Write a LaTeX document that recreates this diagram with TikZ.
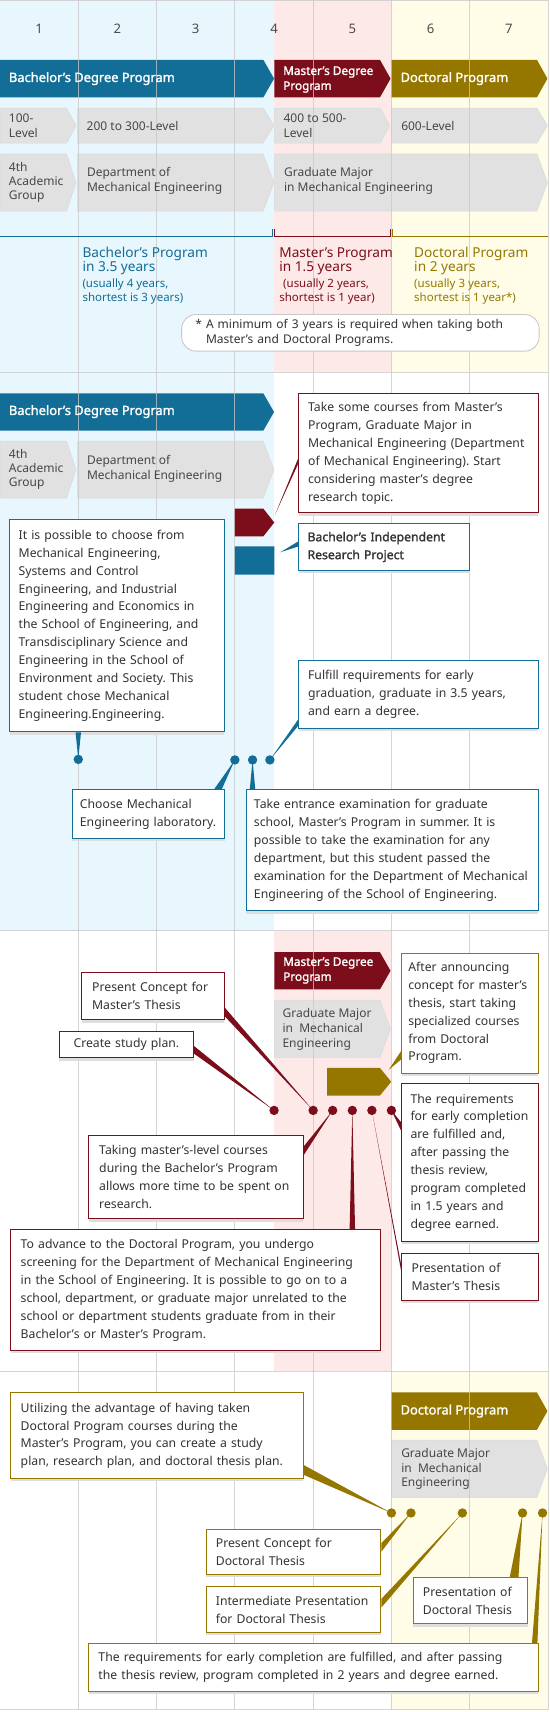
\documentclass[tikz,border=0pt]{standalone}
\usepackage{fontspec}
\setmainfont{Noto Sans}[AutoFakeBold=1.6]
\usetikzlibrary{calc,shadows}
\frenchspacing
\definecolor{bblue}{HTML}{126E96}
\definecolor{mred}{HTML}{7B0E1A}
\definecolor{dgold}{HTML}{957700}
\definecolor{bgblue}{HTML}{E8F6FD}
\definecolor{bgpink}{HTML}{FEE9E9}
\definecolor{bgyel}{HTML}{FFFDE8}
\definecolor{chevgray}{HTML}{E1E1E1}
\definecolor{txt}{HTML}{333333}
\definecolor{gridc}{HTML}{C8C8C8}
\tikzset{pbar/.style={fill=#1},
  chevg/.style={fill=chevgray, draw=black!14, line width=0.5pt},
  gridln/.style={draw=gridc, line width=0.7pt, opacity=0.75},
  bartxt/.style={text=white, inner sep=0pt, anchor=west, align=left,
    font=\bfseries\fontsize{11.8}{13.5}\selectfont},
  greytxt/.style={text=black!72, inner sep=0pt, anchor=west, align=left,
    font=\fontsize{11}{13.5}\selectfont},
  yrnum/.style={text=black!70, inner sep=0pt, font=\fontsize{12}{14}\selectfont},
  durbig/.style={inner sep=0pt, anchor=west, align=left,
    font=\fontsize{12.5}{13.2}\selectfont},
  dursmall/.style={inner sep=0pt, anchor=west, align=left,
    font=\fontsize{10.5}{13.4}\selectfont},
  infobox/.style={draw=#1, fill=white, line width=0.8pt, anchor=north west,
    align=left, inner xsep=8.5pt, inner ysep=0pt, text=txt,
    font=\fontsize{11.2}{16.4}\selectfont,
    drop shadow={shadow xshift=0pt, shadow yshift=-2.5pt, fill=black!13, opacity=1}},
  evdot/.style={circle, fill=#1, minimum size=8.6pt, inner sep=0pt}}
% bar with a pointed right end: style, left x, top y, body right x, tip x, bottom y, tip name
\newcommand{\chevshape}[7]{%
  \path[#1] (#2,#3) -- (#4,#3) -- (#5,{(#3+#6)/2}) -- (#4,#6) -- (#2,#6) -- cycle;
  \coordinate (#7) at (#5,{(#3+#6)/2});}
\begin{document}
\begin{tikzpicture}[x=1pt, y=-1pt]
  \useasboundingbox (0,0) rectangle (503,1568);
  \fill[white] (0,0) rectangle (503,1568);
  % Backgrounds
  \fill[bgblue] (0,0) rectangle (251,341);
  \fill[bgpink] (251,0) rectangle (358.5,341);
  \fill[bgyel] (358.5,0) rectangle (501.9,341);
  \fill[bgblue] (0,341) rectangle (251,852.5);
  \fill[bgpink] (251,852.5) rectangle (358.5,1256);
  \fill[bgyel] (358.5,1256) rectangle (501.9,1566);
  % Overview bars
  \chevshape{pbar=bblue}{0}{54.8}{241.2}{251}{89.2}{tB1}
  \chevshape{pbar=mred}{251.2}{54.8}{348}{357.7}{89.2}{tM1}
  \chevshape{pbar=dgold}{358.3}{54.8}{491.8}{501.4}{89.2}{tD1}
  \chevshape{chevg}{0}{99}{61}{69.6}{131}{tL1}
  \chevshape{chevg}{71.2}{99}{241}{250.9}{131}{tL2}
  \chevshape{chevg}{251.5}{99}{348}{357}{131}{tL3}
  \chevshape{chevg}{358.7}{99}{491.8}{501.4}{131}{tL4}
  \chevshape{chevg}{0}{141}{61}{69.6}{193.4}{tG1}
  \chevshape{chevg}{71.2}{141}{241}{250.9}{193.4}{tG2}
  \chevshape{chevg}{251.5}{141}{491.8}{501.4}{193.4}{tG3}
  % Bachelor's bars
  \chevshape{pbar=bblue}{0}{360.3}{241.2}{251}{394.4}{tB2}
  \chevshape{chevg}{0}{404.1}{61}{69.6}{456.2}{tG4}
  \chevshape{chevg}{71.2}{404.1}{241}{250.9}{456.2}{tG5}
  \chevshape{pbar=mred}{214.6}{465.9}{241.2}{251.2}{491.2}{tM2}
  \chevshape{pbar=bblue}{214.6}{500.3}{251.2}{251.2}{526.2}{tB3}
  % Master's bars
  \chevshape{pbar=mred}{251.2}{872.1}{348}{357.7}{906.2}{tM3}
  \chevshape{chevg}{251.2}{916}{348}{357.7}{968.4}{tG6}
  \chevshape{pbar=dgold}{299.6}{978.1}{348}{358.3}{1003.4}{tD2}
  % Doctoral bars
  \chevshape{pbar=dgold}{358.3}{1275.3}{491.8}{501.4}{1309.5}{tD3}
  \chevshape{chevg}{358.7}{1318.9}{491.8}{501.4}{1371.3}{tG7}
  % Grid
  \foreach \k in {1,...,7}
    \draw[gridln] (71.7*\k,0) -- (71.7*\k,1566);
  \foreach \y in {0.5,341,852.5,1256,1566}
    \draw[gridln] (0,\y) -- (501.9,\y);
  % Years
  \foreach \k in {1,...,7}
    \node[yrnum] (y\k) at ({71.7*(\k-0.5)},26.5) {\k};
  % Bar labels
  \node[bartxt] (bach1) at (8,72) {Bachelor's Degree Program};
  \node[bartxt, font=\bfseries\fontsize{10.8}{13.7}\selectfont] (mast1) at (259.2,72.9) {Master's Degree\\Program};
  \node[bartxt] (doc1) at (366.7,72) {Doctoral Program};
  \node[greytxt] (lv1) at (8,115) {100-\\Level};
  \node[greytxt] (lv2) at (79.2,115) {200 to 300-Level};
  \node[greytxt] (lv3) at (259.5,115) {400 to 500-\\Level};
  \node[greytxt] (lv4) at (367.3,115) {600-Level};
  \node[greytxt, font=\fontsize{11}{13}\selectfont] (grp1) at (8,167) {4th\\Academic\\Group};
  \node[greytxt] (dep1) at (79.5,165.8) {Department of\\Mechanical Engineering};
  \node[greytxt] (maj1) at (260,165.8) {Graduate Major\\in Mechanical Engineering};
  \node[bartxt] (bach2) at (8,377) {Bachelor's Degree Program};
  \node[greytxt, font=\fontsize{11}{13}\selectfont] (grp2) at (8,430) {4th\\Academic\\Group};
  \node[greytxt] (dep2) at (79.5,429.2) {Department of\\Mechanical Engineering};
  \node[bartxt, font=\bfseries\fontsize{10.8}{13.7}\selectfont] (mast2) at (259.2,888.9) {Master's Degree\\Program};
  \node[greytxt] (maj2) at (258.6,942.8) {Graduate Major\\in~ Mechanical\\Engineering};
  \node[bartxt] (doc2) at (366.7,1292.4) {Doctoral Program};
  \node[greytxt] (maj3) at (367.3,1345.5) {Graduate Major\\in~ Mechanical\\Engineering};
  % Durations
  \draw[bblue, line width=0.8pt] (0,216.8) -- (249.6,216.8) -- (249.6,210.1);
  \draw[mred, line width=0.8pt] (251.5,210.1) -- (251.5,216.8) -- (357.7,216.8) -- (357.7,210.1);
  \draw[dgold, line width=0.8pt] (359.3,210.1) -- (359.3,216.8) -- (502,216.8);
  \node[durbig, text=bblue] (bdur) at (75.4,239.2) {Bachelor's Program\\in 3.5 years};
  \node[dursmall, text=bblue] (bnote) at (75.4,267) {(usually 4 years,\\shortest is 3 years)};
  \node[durbig, text=mred] (mdur) at (255.7,239.2) {Master's Program\\in 1.5 years};
  \node[dursmall, text=mred] (mnote) at (255.7,267) {\hspace*{3.5pt}(usually 2 years,\\shortest is 1 year)};
  \node[durbig, text=dgold] (ddur) at (379.2,239.2) {Doctoral Program\\in 2 years};
  \node[dursmall, text=dgold] (dnote) at (379.2,267) {(usually 3 years,\\shortest is 1 year*)};
  \node[draw=black!22, fill=white, rounded corners=13pt, line width=0.8pt, anchor=north west,
    align=left, inner xsep=22.3pt, inner ysep=0pt, minimum width=327.4, minimum height=33.5,
    text width=282.8pt, text=txt, font=\fontsize{11}{13}\selectfont] (note) at (166,287.7)
    {\llap{*\ }A minimum of 3 years is required when taking both\\Master's and Doctoral Programs.};
  % Bachelor's notes
  \node[infobox=mred, minimum width=219.1, minimum height=109, text width=202.1pt] (take) at (273.3,360.3)
    {Take some courses from Master's\\Program, Graduate Major in\\Mechanical Engineering (Department\\of Mechanical Engineering). Start\\considering master's degree\\research topic.};
  \node[infobox=bblue, minimum width=156.6, minimum height=43.2, inner xsep=8pt, text width=140.6pt,
    font=\bfseries\fontsize{11.2}{16.4}\selectfont] (birp) at (273.3,479)
    {Bachelor's Independent\\Research Project};
  \node[infobox=bblue, minimum width=196, minimum height=194.5, inner xsep=8pt, text width=180pt] (choice) at (8.7,475.4)
    {It is possible to choose from\\Mechanical Engineering,\\Systems and Control\\Engineering, and Industrial\\Engineering and Economics in\\the School of Engineering, and\\Transdisciplinary Science and\\Engineering in the School of\\Environment and Society. This\\student chose Mechanical\\Engineering.Engineering.};
  \node[infobox=bblue, minimum width=219.1, minimum height=62.4, text width=202.1pt] (fulfill) at (273.3,604.4)
    {Fulfill requirements for early\\graduation, graduate in 3.5 years,\\and earn a degree.};
  \node[infobox=bblue, minimum width=139.5, minimum height=44.8, inner xsep=7pt, text width=125.5pt] (lab) at (65.8,722.9)
    {Choose Mechanical\\Engineering laboratory.};
  \node[infobox=bblue, minimum width=267.2, minimum height=110.9, inner xsep=7pt, text width=253.2pt] (exam) at (225.2,722.9)
    {Take entrance examination for graduate\\school, Master's Program in summer. It is\\possible to take the examination for any\\department, but this student passed the\\examination for the Department of Mechanical\\Engineering of the School of Engineering.};
  \node[evdot=bblue] (b1) at (71.7,695.5) {};
  \node[evdot=bblue] (b2) at (215.1,696) {};
  \node[evdot=bblue] (b3) at (231.3,696) {};
  \node[evdot=bblue] (b4) at (247.2,696) {};
  \fill[mred] ([shift={(0,59)}]take.north west) -- ([shift={(0,64)}]take.north west) -- ([shift={(0.6,-7)}]tM2) -- cycle;
  \fill[bblue] ([shift={(0,16.8)}]birp.north west) -- ([shift={(0,21.5)}]birp.north west) -- ([shift={(5.4,-7.4)}]tB3) -- cycle;
  \fill[bblue] ($(choice.south -| b1)+(-2.5,0)$) -- ($(choice.south -| b1)+(2.5,0)$) -- (b1.center) -- cycle;
  \fill[bblue] ([shift={(0,-9)}]fulfill.south west) -- ([shift={(0,-3)}]fulfill.south west) -- (b4.center) -- cycle;
  \fill[bblue] ([shift={(-10,0)}]lab.north east) -- ([shift={(-3,0)}]lab.north east) -- (b2.center) -- cycle;
  \fill[bblue] ($(exam.north -| b3)+(-2.5,0)$) -- ($(exam.north -| b3)+(2.5,0)$) -- (b3.center) -- cycle;
  % Master's notes
  \node[infobox=dgold, minimum width=124.8, minimum height=110, inner xsep=6pt, text width=112.8pt] (announce) at (367.6,872.4)
    {After announcing\\concept for master's\\thesis, start taking\\specialized courses\\from Doctoral\\Program.};
  \node[infobox=mred, minimum width=130.3, minimum height=43.5, inner xsep=9.6pt, text width=111.1pt] (concept) at (74.4,890.1)
    {Present Concept for\\Master's Thesis};
  \node[infobox=mred, minimum width=123.5, minimum height=24.4, inner xsep=10pt, text width=103.5pt, align=center] (plan) at (53.6,944)
    {Create study plan.};
  \node[infobox=mred, minimum width=196.4, minimum height=76.7, inner xsep=9.7pt, text width=177pt] (taking) at (80.8,1039.2)
    {Taking master's-level courses\\during the Bachelor's Program\\allows more time to be spent on\\research.};
  \node[infobox=mred, minimum width=338.8, minimum height=110.8, inner xsep=9pt, text width=320.8pt] (advance) at (9.6,1125.9)
    {To advance to the Doctoral Program, you undergo\\screening for the Department of Mechanical Engineering\\in the School of Engineering. It is possible to go on to a\\school, department, or graduate major unrelated to the\\school or department students graduate from in their\\Bachelor's or Master's Program.};
  \node[infobox=mred, minimum width=124.8, minimum height=144.5, inner xsep=8pt, text width=108.8pt] (earlyM) at (367.6,992.1)
    {The requirements\\for early completion\\are fulfilled and,\\after passing the\\thesis review,\\program completed\\in 1.5 years and\\degree earned.};
  \node[infobox=mred, minimum width=124.8, minimum height=43.2, inner xsep=9pt, text width=106.8pt] (mpres) at (367.6,1147.3)
    {Presentation of\\Master's Thesis};
  \foreach \n/\x in {m1/251,m2/286.8,m3/304.7,m4/322.7,m5/340.6,m6/358.5}
    \node[evdot=mred] (\n) at (\x,1017) {};
  \fill[dgold] ([shift={(0,-21)}]announce.south west) -- ([shift={(0,-13)}]announce.south west) -- ([shift={(-2.3,-10.9)}]tD2) -- cycle;
  \fill[mred] ([shift={(0,-12)}]concept.south east) -- ([shift={(0,-4)}]concept.south east) -- (m2.center) -- cycle;
  \fill[mred] ([shift={(0,-11)}]plan.south east) -- ([shift={(0,-4)}]plan.south east) -- (m1.center) -- cycle;
  \fill[mred] ([shift={(0,11)}]taking.north east) -- ([shift={(0,19)}]taking.north east) -- (m3.center) -- cycle;
  \fill[mred] ($(advance.north -| m4)+(-2.5,0)$) -- ($(advance.north -| m4)+(2.5,0)$) -- (m4.center) -- cycle;
  \fill[mred] ([shift={(0,12)}]mpres.north west) -- ([shift={(0,18)}]mpres.north west) -- (m5.center) -- cycle;
  \fill[mred] ([shift={(0,36)}]earlyM.north west) -- ([shift={(0,44)}]earlyM.north west) -- (m6.center) -- cycle;
  % Doctoral notes
  \node[infobox=dgold, minimum width=267.6, minimum height=78.6, inner xsep=9pt, text width=249.6pt] (util) at (9.6,1275.3)
    {Utilizing the advantage of having taken\\Doctoral Program courses during the\\Master's Program, you can create a study\\plan, research plan, and doctoral thesis plan.};
  \node[infobox=dgold, minimum width=160.1, minimum height=41.5, inner xsep=9pt, text width=142.1pt] (dconcept) at (188.3,1400.3)
    {Present Concept for\\Doctoral Thesis};
  \node[infobox=dgold, minimum width=160.1, minimum height=42.6, inner xsep=9pt, text width=142.1pt] (inter) at (188.3,1452.4)
    {Intermediate Presentation\\for Doctoral Thesis};
  \node[infobox=dgold, minimum width=105.2, minimum height=42.6, inner xsep=9pt, text width=87.2pt] (dpres) at (377.9,1444.2)
    {Presentation of\\Doctoral Thesis};
  \node[infobox=dgold, minimum width=411.6, minimum height=43.2, inner xsep=9pt, text width=393.6pt] (earlyD) at (80.8,1505.1)
    {The requirements for early completion are fulfilled, and after passing\\the thesis review, program completed in 2 years and degree earned.};
  \foreach \n/\x in {d1/358.5,d2/376.4,d3/423.5,d4/478.6,d5/496.9}
    \node[evdot=dgold] (\n) at (\x,1385.7) {};
  \fill[dgold] ([shift={(0,-13)}]util.south east) -- ([shift={(0,-4)}]util.south east) -- (d1.center) -- cycle;
  \fill[dgold] ([shift={(0,13)}]dconcept.north east) -- ([shift={(0,21)}]dconcept.north east) -- (d2.center) -- cycle;
  \fill[dgold] ([shift={(0,12)}]inter.north east) -- ([shift={(0,20)}]inter.north east) -- (d3.center) -- cycle;
  \fill[dgold] ([shift={(-17,0)}]dpres.north east) -- ([shift={(-9,0)}]dpres.north east) -- (d4.center) -- cycle;
  \fill[dgold] ([shift={(-6,0)}]earlyD.north east) -- ([shift={(-1,0)}]earlyD.north east) -- (d5.center) -- cycle;
\end{tikzpicture}
\end{document}
